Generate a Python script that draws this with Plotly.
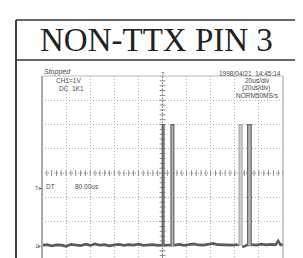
import plotly.graph_objects as go
import numpy as np

# ---- data (time in us, amplitude in V) ----
title_text = "NON-TTX PIN 3"
base_t = [-100, -96, -92, -88, -84, -80, -76, -72, -68, -64, -60, -56, -52, -48, -44, -40,
          -36, -32, -28, -24, -20, -16, -12, -8, -4, -1]
base_v = [0.02, 0.05, 0.00, 0.04, 0.03, -0.02, 0.06, 0.03, 0.01, 0.07, 0.02, 0.08, 0.03,
          0.05, 0.00, 0.04, 0.06, 0.02, 0.05, 0.03, 0.07, 0.02, 0.04, 0.05, 0.02, 0.03]
base_t2 = [10, 14, 18, 22, 26, 30, 34, 38, 42, 46, 50, 54, 58, 62]
base_v2 = [0.03, 0.06, 0.02, 0.05, 0.08, 0.04, 0.03, 0.07, 0.10, 0.05, 0.04, 0.06, 0.03, 0.05]
base_t3 = [74, 78, 82, 86, 90, 94, 96, 98, 100]
base_v3 = [0.05, 0.03, 0.07, 0.04, 0.06, 0.05, 0.20, 0.04, 0.05]
pulse_start = [-0.2, 7.0, 63.6, 70.6]
pulse_end = [1.2, 9.4, 66.0, 73.6]
pulse_high = [5.0, 5.0, 5.0, 5.0]
pulse_color = ["#5e5e5e", "#666666", "#a8a8a8", "#666666"]
pulse_fill = ["#9a9a9a", "#b5b5b5", "#d0d0d0", "#b5b5b5"]

fig = go.Figure()

# centre crosshair ticks (drawn first, below the trace)
tx = np.arange(-100, 100.1, 4)
fig.add_trace(go.Scatter(x=tx, y=[3] * len(tx), mode="markers",
                         marker=dict(symbol="line-ns-open", size=4, color="#888",
                                     line=dict(width=1, color="#888")), hoverinfo="skip"))
ty = np.arange(-0.4, 7.01, 0.2)
fig.add_trace(go.Scatter(x=[0] * len(ty), y=ty, mode="markers",
                         marker=dict(symbol="line-ew-open", size=4, color="#888",
                                     line=dict(width=1, color="#888")), hoverinfo="skip"))

seg_color = "#5a5a5a"
for tt, vv in [(base_t, base_v), (base_t2, base_v2), (base_t3, base_v3)]:
    fig.add_trace(go.Scatter(x=tt, y=vv, mode="lines",
                             line=dict(color=seg_color, width=2.6), hoverinfo="skip"))
fig.add_trace(go.Scatter(x=[-1, 1.2, 7.0, 9.4, 10], y=[0.03, 0.03, 0.04, 0.04, 0.03],
                         mode="lines", line=dict(color=seg_color, width=2.6), hoverinfo="skip"))
fig.add_trace(go.Scatter(x=[62, 63.6], y=[0.05, 0.02], mode="lines",
                         line=dict(color=seg_color, width=2.6), hoverinfo="skip"))
fig.add_trace(go.Scatter(x=[66.2, 70.6, 73.6, 74], y=[-0.05, 0.04, 0.04, 0.05], mode="lines",
                         line=dict(color=seg_color, width=2.6), hoverinfo="skip"))

for s, e, h, c, f in zip(pulse_start, pulse_end, pulse_high, pulse_color, pulse_fill):
    fig.add_trace(go.Scatter(x=[s, s, e, e], y=[0, h, h, 0], mode="lines", fill="toself",
                             fillcolor=f, line=dict(color=c, width=1.2), hoverinfo="skip"))

OFF = 8  # default page body margin
W, H = 303 - OFF, 258 - OFF
L, R, T, B = 42 - OFF, 20, 76 - OFF, 0
pw, ph = W - L - R, H - T - B


def px(x):
    return (x - OFF - L) / pw


def py(y):
    return (H - B - (y - OFF)) / ph


shapes = [
    dict(type="line", xref="x", yref="paper", x0=0, x1=0, y0=0, y1=1, layer="below",
         line=dict(color="#777", width=1, dash="2px,1px")),
    dict(type="line", xref="paper", yref="y", x0=0, x1=1, y0=3, y1=3, layer="below",
         line=dict(color="#999", width=1, dash="1px,2px")),
    dict(type="line", xref="paper", yref="paper", x0=0, x1=0, y0=0, y1=1,
         line=dict(color="#aaa", width=2)),
    dict(type="line", xref="paper", yref="paper", x0=1, x1=1, y0=0, y1=1,
         line=dict(color="#999", width=1)),
    dict(type="line", xref="paper", yref="paper", x0=0, x1=1, y0=1, y1=1,
         line=dict(color="#bbb", width=1)),
    dict(type="line", xref="paper", yref="paper", x0=px(16), x1=px(16), y0=py(20), y1=py(262),
         line=dict(color="#444", width=2)),
    dict(type="line", xref="paper", yref="paper", x0=px(296.5), x1=px(296.5), y0=py(20), y1=py(262),
         line=dict(color="#777", width=2)),
    dict(type="line", xref="paper", yref="paper", x0=px(16), x1=px(297), y0=py(20), y1=py(20),
         line=dict(color="#333", width=1.5)),
    dict(type="line", xref="paper", yref="paper", x0=px(16), x1=px(297), y0=py(60), y1=py(60),
         line=dict(color="#333", width=1.5)),
]

small = dict(family="Liberation Sans, Arial, sans-serif", size=6.5, color="#4a4a4a")


def txt(x, y, s, anchor="left", font=small):
    return dict(xref="paper", yref="paper", x=px(x), y=py(y), text=s, showarrow=False,
                xanchor=anchor, yanchor="middle", font=font)


annotations = [
    dict(xref="paper", yref="paper", x=px(156), y=py(39.5), text=title_text, showarrow=False,
         xanchor="center", yanchor="middle",
         font=dict(family="Liberation Serif, Times New Roman, serif", size=33, color="#222")),
    txt(42, 72, "<i>Stopped</i>", font=dict(family="Liberation Sans, Arial, sans-serif", size=7, color="#4a4a4a")),
    txt(54, 80.5, "CH1=1V"),
    txt(57, 88, "DC  1K1"),
    txt(283, 73, "1998/04/21  14:45:14", anchor="right"),
    txt(257, 80.5, "20us/div", anchor="center"),
    txt(256.5, 88, "(20us/div)", anchor="center"),
    txt(257, 95.5, "NORM50MS/s", anchor="center"),
    txt(43.5, 186, "DT"),
    txt(73, 186.5, "80.00us"),
    txt(33, 188, "T▸", font=dict(family="Liberation Sans", size=6, color="#666")),
    txt(33, 246, "1▸", font=dict(family="Liberation Sans", size=6, color="#666")),
    txt(162.5, 73.5, "T", anchor="center", font=dict(family="Liberation Sans", size=6, color="#777")),
]

fig.update_layout(
    width=W, height=H, margin=dict(l=L, r=R, t=T, b=B, pad=0),
    paper_bgcolor="white", plot_bgcolor="white", showlegend=False,
    xaxis=dict(range=[-100, 100], dtick=20, tick0=0, showticklabels=False, ticks="",
               showgrid=True, gridcolor="#b0b0b0", griddash="1px,2px", gridwidth=1,
               zeroline=False, fixedrange=True),
    yaxis=dict(range=[-0.5, 7], dtick=1, tick0=0, showticklabels=False, ticks="",
               showgrid=True, gridcolor="#b0b0b0", griddash="1px,2px", gridwidth=1,
               zeroline=False, fixedrange=True),
    shapes=shapes, annotations=annotations,
)

fig.write_html("out.html", config={"displayModeBar": False})
